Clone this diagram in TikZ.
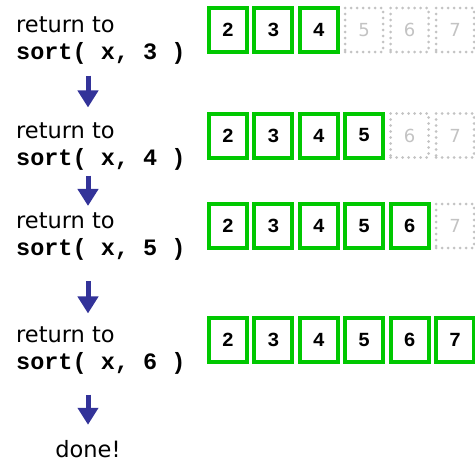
\documentclass[tikz,border=0pt]{standalone}
\usepackage{fontspec}
\setmainfont{DejaVu Sans}
\setmonofont{Liberation Mono}
\usetikzlibrary{arrows.meta}
\definecolor{cellgreen}{RGB}{0,200,0}
\definecolor{flowblue}{RGB}{51,51,153}
\definecolor{dotgray}{RGB}{195,195,195}
\begin{document}
\begin{tikzpicture}[x=1pt,y=-1pt,font=\fontsize{22.5}{27}\selectfont,
		done cell/.style={draw=cellgreen,line width=4pt,fill=white,minimum width=38pt,minimum height=44pt,inner sep=0pt,font=\fontsize{20}{20}\selectfont\ttfamily\bfseries},
		open cell/.style={draw=dotgray,line width=3pt,dash pattern=on 0pt off 6pt,line cap=round,minimum width=38pt,minimum height=44pt,inner sep=0pt,text=dotgray,font=\fontsize{18}{18}\selectfont},
		call/.style={align=left,inner sep=0pt,anchor=west},
		flow/.style={draw=flowblue,line width=5pt,-{Triangle[width=20pt,length=17pt]}}]
	\useasboundingbox (0,0) rectangle (475,463);
	% Code trong ngoặc
	\def\callcode#1{{\fontsize{23.5}{27}\selectfont\ttfamily\bfseries #1}}
	% Một hàng ô: #1 tên hàng, #2 toạ độ y, #3 số cuối đã xếp
	\def\cellrow#1#2#3{
		\foreach \k in {2,...,7}{
			\pgfmathsetmacro{\cx}{228+45.4*(\k-2)}
			\ifnum\k>#3
				\node[open cell] (#1-\k) at (\cx,#2) {\k};
			\else
				\node[done cell] (#1-\k) at (\cx,#2) {\k};
			\fi
		}
	}
	% Các hàng ô
	\cellrow{row3}{30}{4}
	\cellrow{row4}{135.5}{5}
	\cellrow{row5}{226}{6}
	\cellrow{row6}{340}{7}
	% Các lời gọi trả về
	\node[call] (ret3) at (16,40.5) {return to\\\callcode{sort( x, 3 )}};
	\node[call] (ret4) at (16,146.5) {return to\\\callcode{sort( x, 4 )}};
	\node[call] (ret5) at (16,237) {return to\\\callcode{sort( x, 5 )}};
	\node[call] (ret6) at (16,350.5) {return to\\\callcode{sort( x, 6 )}};
	\node (done) at (88,449) {done!};
	% Mũi tên
	\draw[flow,shorten <=11pt,shorten >=15pt] (ret3.south -| done) -- (ret4.north -| done);
	\draw[flow,shorten <=5pt,shorten >=7pt] (ret4.south -| done) -- (ret5.north -| done);
	\draw[flow,shorten <=20pt,shorten >=13pt] (ret5.south -| done) -- (ret6.north -| done);
	\draw[flow,shorten <=20pt,shorten >=12pt] (ret6.south -| done) -- (done.north);
\end{tikzpicture}
\end{document}
